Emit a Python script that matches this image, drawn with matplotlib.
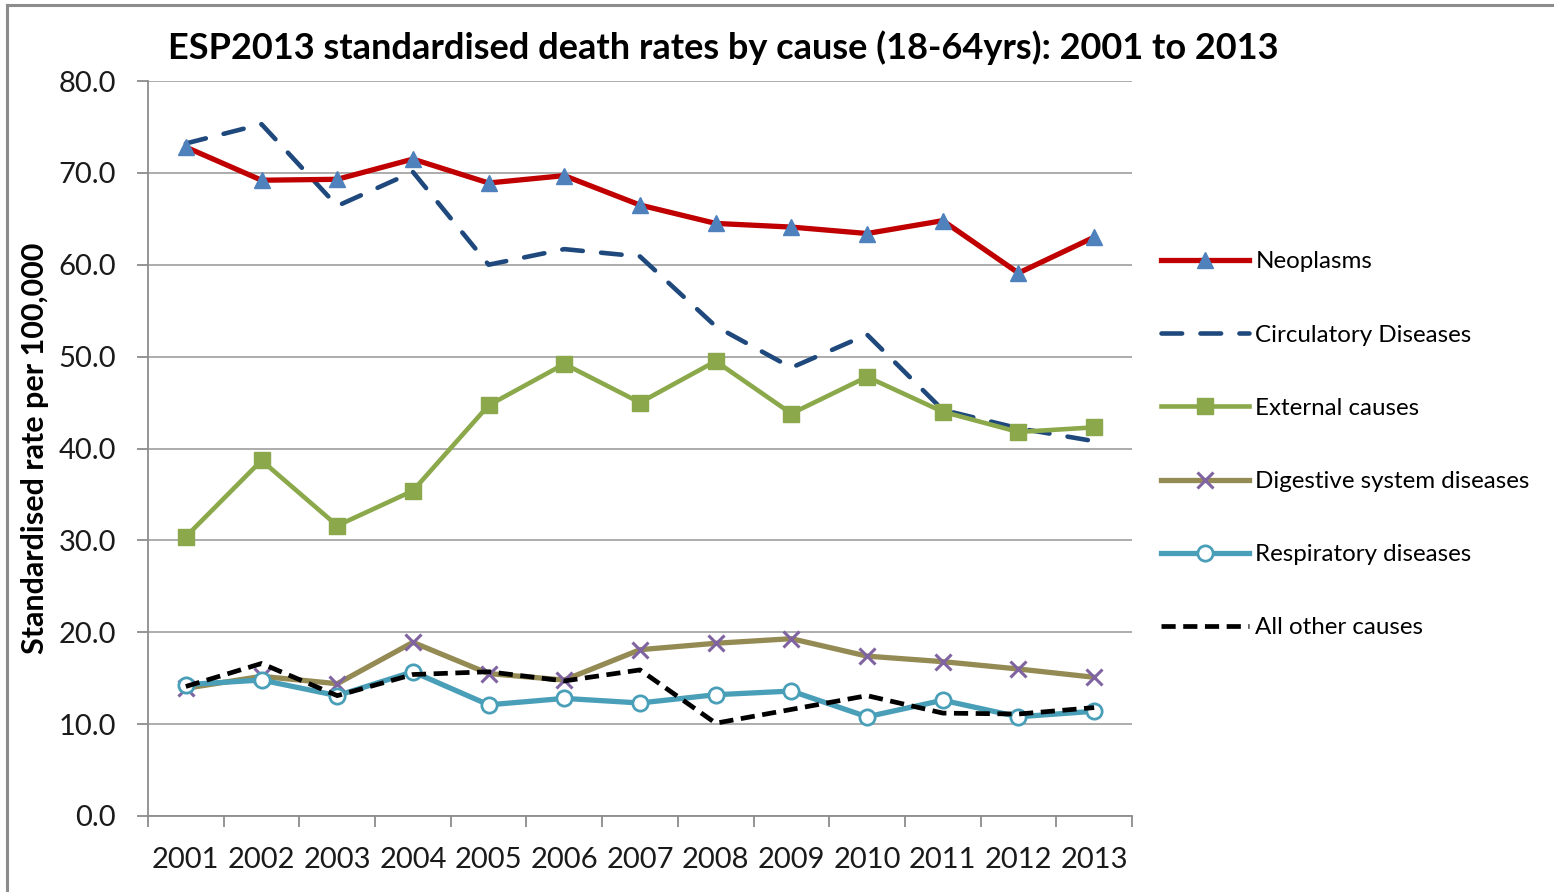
import numpy as np
import matplotlib
matplotlib.use("Agg")
import matplotlib.pyplot as plt
from matplotlib.lines import Line2D

plt.rcParams['font.family'] = ['Lato', 'DejaVu Sans']

years = ["2001", "2002", "2003", "2004", "2005", "2006", "2007",
         "2008", "2009", "2010", "2011", "2012", "2013"]

neoplasms = [72.8, 69.2, 69.3, 71.5, 68.9, 69.7, 66.5, 64.5, 64.1, 63.4, 64.8, 59.1, 63.0]
circulatory = [73.2, 75.3, 66.4, 70.1, 60.0, 61.7, 60.9, 53.3, 48.8, 52.4, 44.2, 42.2, 40.8]
external = [30.4, 38.7, 31.6, 35.4, 44.7, 49.2, 45.0, 49.5, 43.8, 47.8, 44.0, 41.8, 42.3]
digestive = [13.9, 15.2, 14.4, 18.9, 15.5, 14.8, 18.1, 18.8, 19.3, 17.4, 16.8, 16.0, 15.1]
respiratory = [14.3, 14.8, 13.1, 15.7, 12.1, 12.8, 12.3, 13.2, 13.6, 10.8, 12.6, 10.8, 11.4]
all_other = [14.1, 16.6, 13.1, 15.4, 15.7, 14.7, 15.9, 10.1, 11.6, 13.1, 11.2, 11.1, 11.8]

fig = plt.figure(figsize=(15.54, 8.92), dpi=100)
ax = fig.add_axes([148 / 1554, 1 - 816 / 892, (1132 - 148) / 1554, (816 - 81) / 892])

x = np.arange(len(years))

ax.plot(x, neoplasms, color='#C00000', lw=3.8, marker='^', ms=12,
        mfc='#4F81BD', mec='#4F81BD', label='Neoplasms', zorder=5)
ax.plot(x, circulatory, color='#1F497D', lw=3.3, dashes=(4.5, 4),
        dash_capstyle='round', label='Circulatory Diseases', zorder=4)
ax.plot(x, external, color='#8BA84B', lw=3.3, marker='s', ms=12,
        mfc='#8BA84B', mec='#8BA84B', label='External causes', zorder=4)
ax.plot(x, digestive, color='#948A54', lw=3.8, marker='x', ms=11, mew=2.2,
        mec='#8064A2', label='Digestive system diseases', zorder=3)
ax.plot(x, respiratory, color='#4A9FB8', lw=3.8, marker='o', ms=11, mew=2,
        mfc='white', mec='#4A9FB8', label='Respiratory diseases', zorder=3)
ax.plot(x, all_other, color='black', lw=3.4, dashes=(3, 1.6),
        label='All other causes', zorder=4)

ax.set_xlim(-0.5, len(years) - 0.5)
ax.set_ylim(0, 80)
ax.set_yticks(np.arange(0, 81, 10))
ax.set_yticklabels(["%.1f" % v for v in np.arange(0, 81, 10)])
ax.set_xticks(x)
ax.set_xticklabels(years)
ax.set_xticks(np.arange(-0.5, len(years), 1), minor=True)

ax.grid(axis='y', color='#A6A6A6', lw=1.3)
ax.set_axisbelow(True)
for s in ['top', 'right']:
    ax.spines[s].set_visible(False)
for s in ['left', 'bottom']:
    ax.spines[s].set_color('#8C8C8C')
    ax.spines[s].set_linewidth(1.3)

ax.tick_params(axis='y', length=8, width=1.3, color='#8C8C8C', pad=15,
               labelsize=21, labelcolor='#1A1A1A')
ax.tick_params(axis='x', which='major', length=0, pad=22,
               labelsize=21, labelcolor='#1A1A1A')
ax.tick_params(axis='x', which='minor', length=8, width=1.3, color='#8C8C8C')

fig.text(723 / 1554, 1 - 48 / 892,
         "ESP2013 standardised death rates by cause (18-64yrs): 2001 to 2013",
         ha='center', va='center', fontsize=26, fontweight='bold')
fig.text(35 / 1554, 1 - 448 / 892, "Standardised rate per 100,000",
         rotation=90, ha='center', va='center', fontsize=22, fontweight='bold')

fig.legend(loc='center left', bbox_to_anchor=(1161 / 1554, 1 - 445 / 892),
           frameon=False, fontsize=17.4, handlelength=3.65, handletextpad=0.25,
           labelspacing=2.16, borderpad=0, borderaxespad=0)

# outer chart frame
fig.add_artist(Line2D([7 / 1554, 7 / 1554], [0, 1 - 5 / 892],
                      transform=fig.transFigure, color='#8C8C8C', lw=2.2))
fig.add_artist(Line2D([7 / 1554, 1], [1 - 5 / 892, 1 - 5 / 892],
                      transform=fig.transFigure, color='#8C8C8C', lw=2.2))

fig.savefig("out.png", dpi=100)
